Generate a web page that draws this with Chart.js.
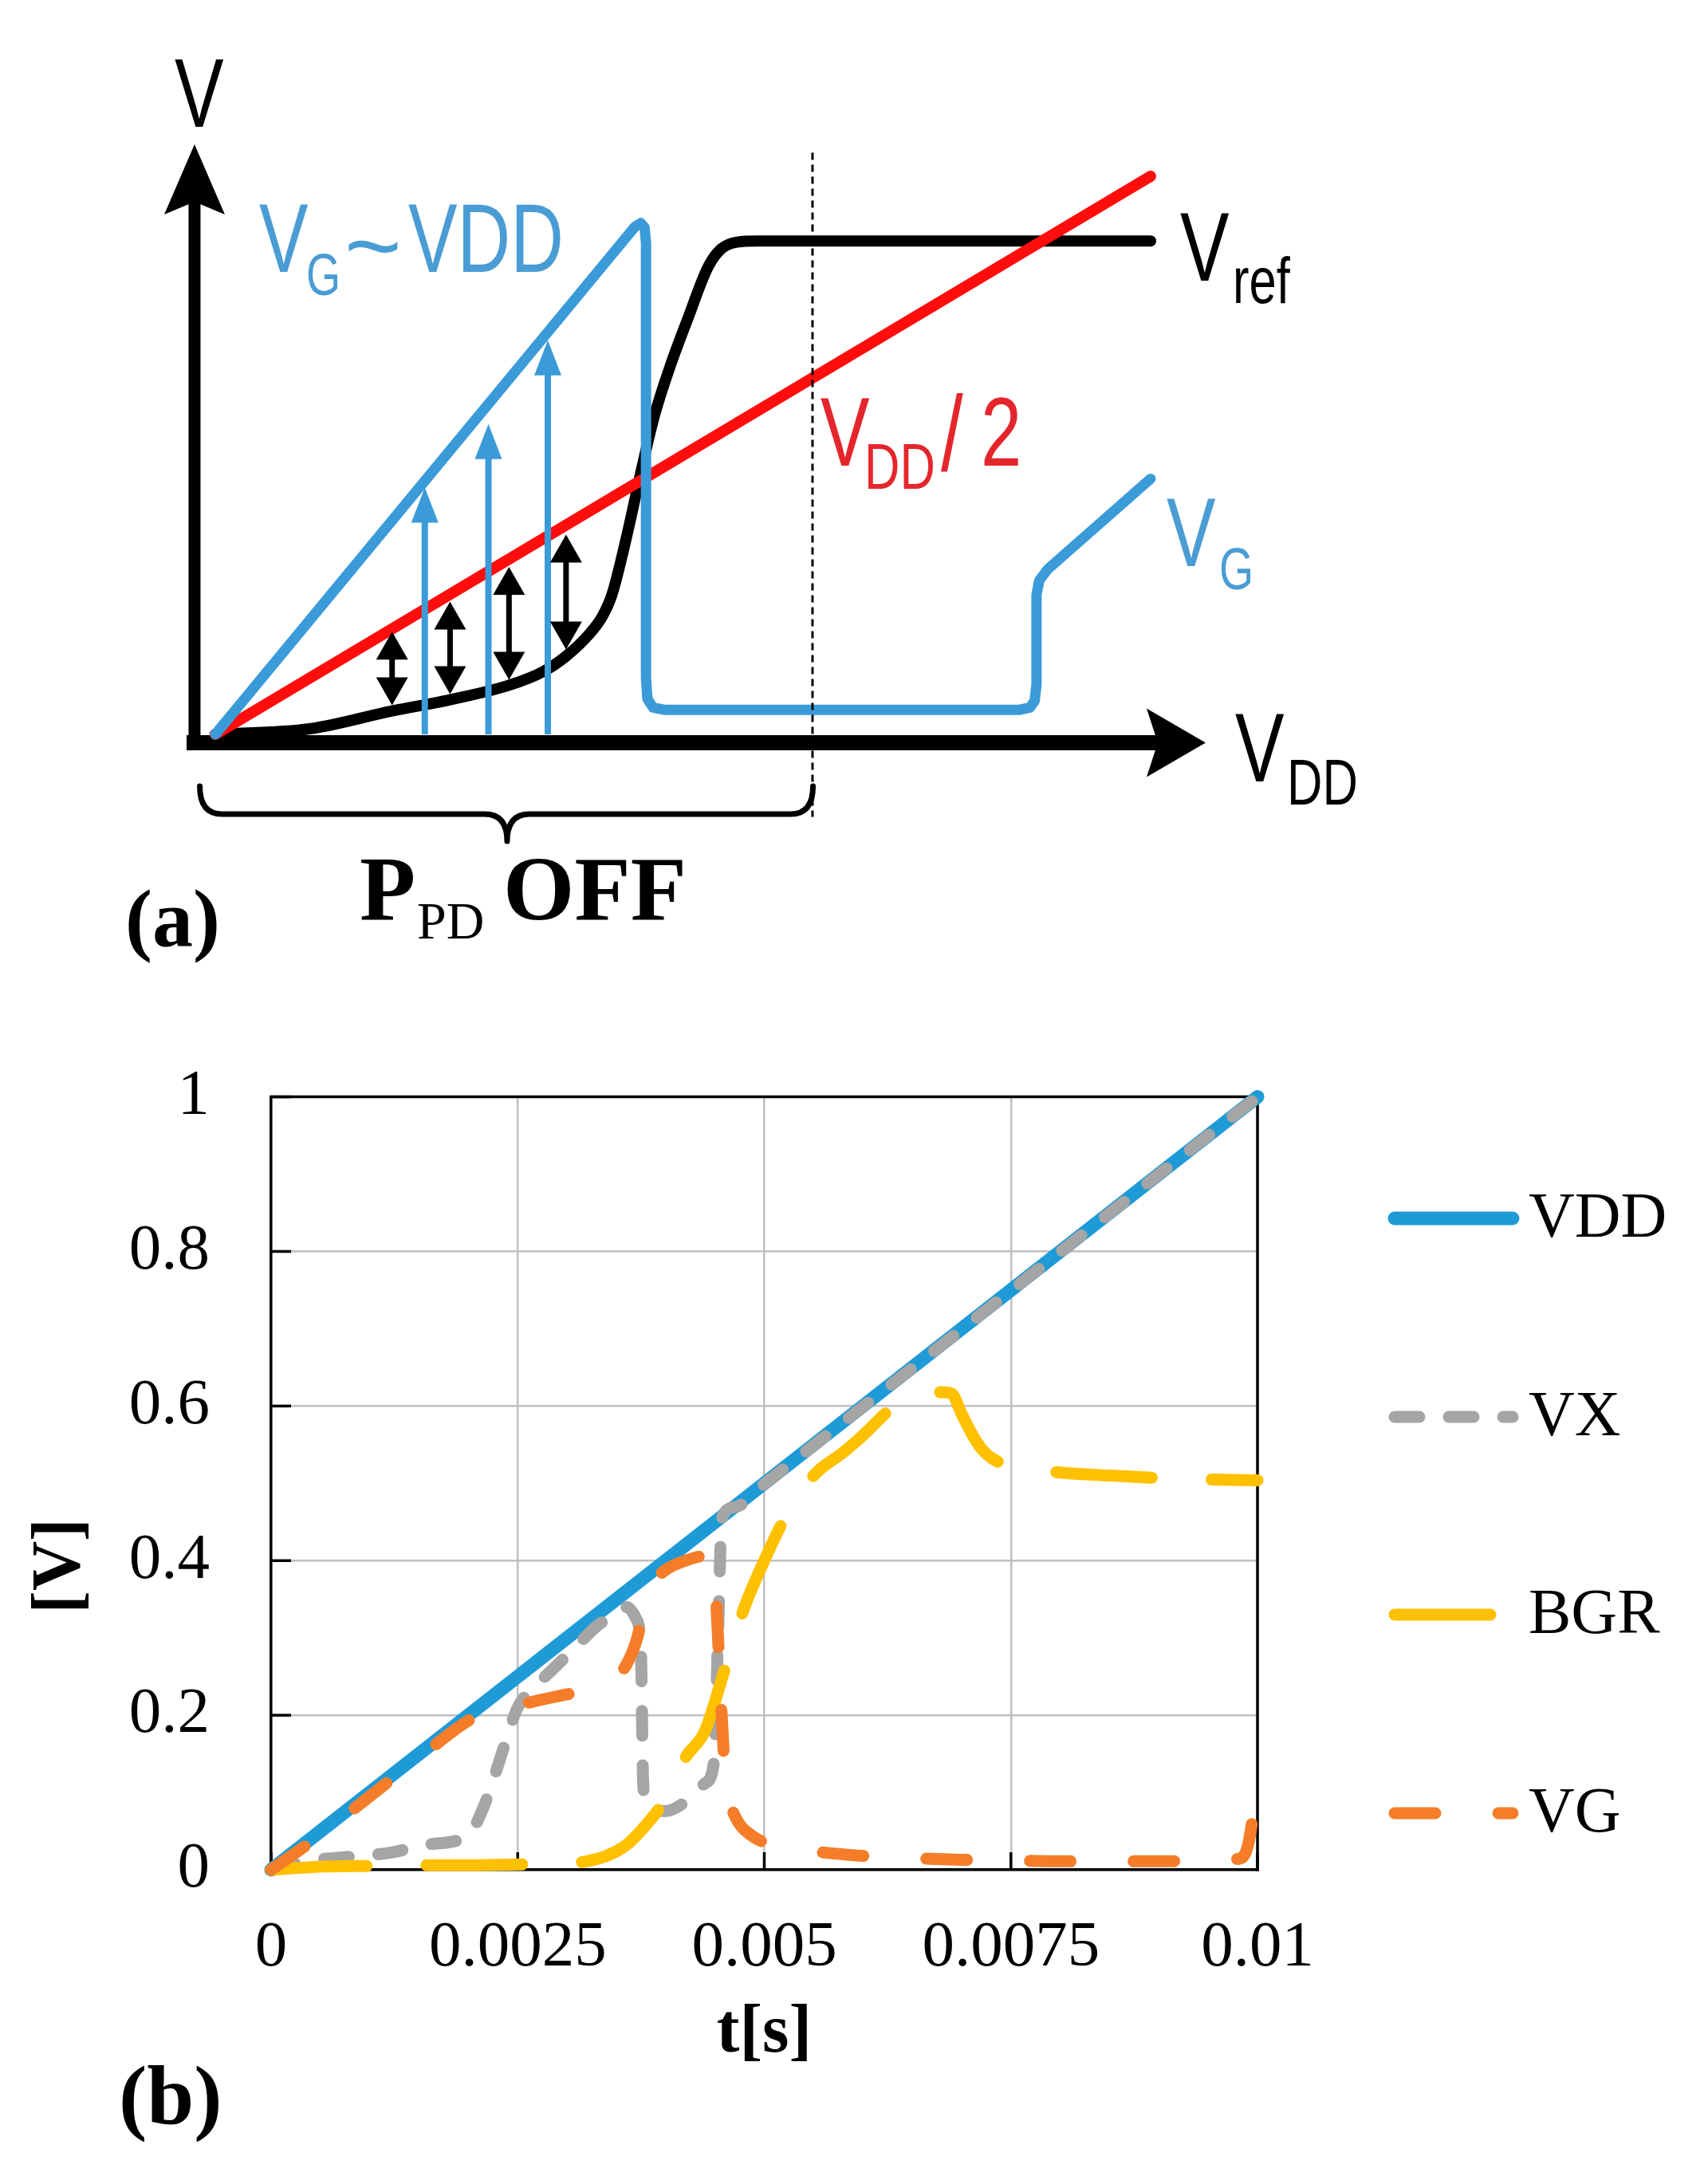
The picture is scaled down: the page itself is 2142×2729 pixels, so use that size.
<!DOCTYPE html>
<html>
<head>
<meta charset="utf-8">
<script src="https://cdn.jsdelivr.net/npm/chart.js@4.4.1/dist/chart.umd.min.js"></script>
<style>
  html, body { margin: 0; padding: 0; background: #fff; overflow: hidden; width: 2142px; height: 2729px; }
  canvas { position: absolute; left: 0; display: block; }
  #ca { top: 0; }
  #cb { top: 1250px; }
</style>
</head>
<body>
<canvas id="ca" width="2142" height="1250" style="width:2142px;height:1250px"></canvas>
<canvas id="cb" width="2142" height="1479" style="width:2142px;height:1479px"></canvas>
<script>
// ================= Panel (b): transient simulation data =================
const seriesNames = ['VDD', 'VX', 'BGR', 'VG'];

const vddT = [0, 0.01];
const vddV = [0, 1];

const vxT = [0, 0.0004, 0.0008, 0.0012, 0.0016, 0.002, 0.00215, 0.0023, 0.0024, 0.0025, 0.0027, 0.0029, 0.0031, 0.0033, 0.0035, 0.0036, 0.0037, 0.00375, 0.00377, 0.0038, 0.0039, 0.004, 0.0042, 0.0044, 0.00449, 0.00453, 0.00457, 0.0047, 0.005, 0.0075, 0.01];
const vxV = [0, 0.012, 0.017, 0.022, 0.033, 0.045, 0.08, 0.135, 0.175, 0.21, 0.24, 0.265, 0.29, 0.315, 0.332, 0.34, 0.325, 0.28, 0.12, 0.085, 0.077, 0.076, 0.088, 0.112, 0.14, 0.3, 0.455, 0.469, 0.499, 0.749, 1.0];

const bgrT = [0, 0.0005, 0.001, 0.0015, 0.002, 0.0025, 0.003, 0.0032, 0.0034, 0.0036, 0.0038, 0.004, 0.0042, 0.0044, 0.0046, 0.0048, 0.005, 0.0052, 0.0055, 0.0058, 0.006, 0.0063, 0.0065, 0.0068, 0.0069, 0.007, 0.0071, 0.0072, 0.0073, 0.0075, 0.008, 0.0085, 0.009, 0.0095, 0.01];
const bgrV = [0, 0.004, 0.005, 0.006, 0.006, 0.007, 0.008, 0.011, 0.018, 0.032, 0.058, 0.092, 0.145, 0.18, 0.26, 0.34, 0.4, 0.453, 0.51, 0.54, 0.562, 0.598, 0.61, 0.618, 0.616, 0.59, 0.565, 0.545, 0.533, 0.522, 0.514, 0.51, 0.507, 0.505, 0.504];

const vgT = [0, 0.0005, 0.001, 0.0015, 0.002, 0.0022, 0.0024, 0.0025, 0.0027, 0.003, 0.0033, 0.0035, 0.0036, 0.0037, 0.0038, 0.0039, 0.004, 0.0042, 0.0044, 0.00449, 0.00452, 0.00456, 0.0046, 0.00465, 0.0047, 0.0049, 0.0052, 0.0055, 0.006, 0.0065, 0.007, 0.0075, 0.008, 0.0085, 0.009, 0.0095, 0.0098, 0.0099, 0.01];
const vgV = [0, 0.045, 0.095, 0.145, 0.193, 0.205, 0.211, 0.213, 0.219, 0.227, 0.235, 0.25, 0.265, 0.295, 0.345, 0.375, 0.388, 0.4, 0.406, 0.4, 0.33, 0.22, 0.13, 0.09, 0.07, 0.042, 0.03, 0.024, 0.018, 0.015, 0.013, 0.012, 0.011, 0.011, 0.011, 0.012, 0.014, 0.03, 0.11];

const xTickValues = [0, 0.0025, 0.005, 0.0075, 0.01];
const xTickLabels = ['0', '0.0025', '0.005', '0.0075', '0.01'];
const yTickValues = [0, 0.2, 0.4, 0.6, 0.8, 1];
const yTickLabels = ['0', '0.2', '0.4', '0.6', '0.8', '1'];
const xAxisTitle = 't[s]';
const yAxisTitle = '[V]';

// ================= Panel (a): schematic (x = VDD, y = V) =================
const aHalfX = [0, 1];            // VDD/2 line
const aHalfY = [0, 0.5];
const aVgX = [0, 0.44, 0.449, 0.455, 0.459, 0.4605, 0.4605, 0.462, 0.468, 0.48, 0.86, 0.871, 0.876, 0.878, 0.878, 0.881, 0.89, 1.0];
const aVgY = [0, 0.446, 0.455, 0.458, 0.454, 0.44, 0.05, 0.032, 0.024, 0.022, 0.022, 0.024, 0.03, 0.045, 0.125, 0.138, 0.148, 0.229];
const aRefX = [0, 0.101, 0.189, 0.251, 0.314, 0.35, 0.375, 0.4, 0.414, 0.424, 0.44, 0.454, 0.469, 0.486, 0.505, 0.527, 0.541, 0.558, 0.58, 1.0];
const aRefY = [0, 0.005, 0.021, 0.031, 0.044, 0.056, 0.07, 0.09, 0.106, 0.125, 0.178, 0.231, 0.284, 0.329, 0.372, 0.419, 0.435, 0.441, 0.442, 0.442];
const aOffX = [0.6385, 0.6385];   // end of P_PD OFF region
const aOffY = [0.521, -0.074];
const aUpArrowX = [0.224, 0.292, 0.3555];
const aUpArrowTip = [0.221, 0.278, 0.353];
const aGapArrowX = [0.189, 0.251, 0.314, 0.375];
const aGapTop = [0.092, 0.119, 0.150, 0.179];
const aGapBottom = [0.026, 0.036, 0.049, 0.076];

const pts = (xs, ys) => xs.map((x, i) => ({ x: x, y: ys[i] }));

const SERIF = '"Liberation Serif", "Times New Roman", serif';
const SANS = '"Liberation Sans", Arial, sans-serif';

// ---------- helpers ----------
function arrowHead(ctx, tipX, tipY, dx, dy, len, halfW, notch, color) {
  const bx = tipX - dx * len, by = tipY - dy * len;
  const nx = -dy, ny = dx;
  ctx.beginPath();
  ctx.moveTo(tipX, tipY);
  ctx.lineTo(bx + nx * halfW, by + ny * halfW);
  ctx.lineTo(tipX - dx * (len - notch), tipY - dy * (len - notch));
  ctx.lineTo(bx - nx * halfW, by - ny * halfW);
  ctx.closePath();
  ctx.fillStyle = color;
  ctx.fill();
}
function sText(ctx, str, x, y, size, color, hs) {
  ctx.save();
  ctx.translate(x, y);
  ctx.scale(hs, 1);
  ctx.font = size + 'px ' + SANS;
  ctx.fillStyle = color;
  ctx.textAlign = 'left';
  ctx.textBaseline = 'alphabetic';
  ctx.fillText(str, 0, 0);
  ctx.restore();
}

// ---------- panel (a) chart ----------
const A = { ox: 270, oy: 921, sx: 1173, sy: 1400, w: 2142, h: 1250 };
const BLUE_A = '#3B9BD8';
const BLUE_TXT = '#4A9CD4';
const RED_A = '#FF0D0D';
const RED_TXT = '#E4262C';

const schematicPlugin = {
  id: 'schematic',
  beforeDatasetsDraw(chart) {
    const ctx = chart.ctx, X = chart.scales.x, Y = chart.scales.y;
    const px = v => X.getPixelForValue(v), py = v => Y.getPixelForValue(v);
    ctx.save();
    ctx.strokeStyle = '#000';
    ctx.lineCap = 'butt';
    // vertical axis
    const yx = px(-0.0222);
    ctx.lineWidth = 15;
    ctx.beginPath();
    ctx.moveTo(yx, py(-0.0143));
    ctx.lineTo(yx, py(0.5286) + 70);
    ctx.stroke();
    arrowHead(ctx, yx, py(0.5286), 0, -1, 88, 38, 16, '#000');
    // horizontal axis
    const xy = py(-0.0075);
    ctx.lineWidth = 19;
    ctx.beginPath();
    ctx.moveTo(px(-0.0307), xy);
    ctx.lineTo(px(1.0588) - 60, xy);
    ctx.stroke();
    arrowHead(ctx, px(1.0588), xy, 1, 0, 74, 43, 14, '#000');
    ctx.restore();
  },
  afterDatasetsDraw(chart) {
    const ctx = chart.ctx, X = chart.scales.x, Y = chart.scales.y;
    const px = v => X.getPixelForValue(v), py = v => Y.getPixelForValue(v);
    ctx.save();
    // blue up arrows
    aUpArrowX.forEach((v, i) => {
      const x = px(v), tip = py(aUpArrowTip[i]);
      ctx.strokeStyle = BLUE_A; ctx.lineWidth = 8; ctx.lineCap = 'butt';
      ctx.beginPath(); ctx.moveTo(x, py(0)); ctx.lineTo(x, tip + 35); ctx.stroke();
      arrowHead(ctx, x, tip, 0, -1, 44, 17, 0, BLUE_A);
    });
    // black double arrows
    aGapArrowX.forEach((v, i) => {
      const x = px(v), t = py(aGapTop[i]), b = py(aGapBottom[i]);
      ctx.strokeStyle = '#000'; ctx.lineWidth = 7; ctx.lineCap = 'butt';
      ctx.beginPath(); ctx.moveTo(x, t + 28); ctx.lineTo(x, b - 28); ctx.stroke();
      arrowHead(ctx, x, t, 0, -1, 35, 20, 0, '#000');
      arrowHead(ctx, x, b, 0, 1, 35, 20, 0, '#000');
    });
    // brace under the OFF region
    const L = px(-0.0166), R = px(0.639), C = px(0.312);
    const yTop = py(-0.0464), yMid = py(-0.0714), yTip = py(-0.0957);
    const r = 28;
    ctx.strokeStyle = '#000'; ctx.lineWidth = 7; ctx.lineCap = 'round'; ctx.lineJoin = 'round';
    ctx.beginPath();
    ctx.moveTo(L, yTop);
    ctx.quadraticCurveTo(L, yMid, L + r, yMid);
    ctx.lineTo(C - r, yMid);
    ctx.quadraticCurveTo(C, yMid, C, yTip);
    ctx.moveTo(C, yTip);
    ctx.quadraticCurveTo(C, yMid, C + r, yMid);
    ctx.lineTo(R - r, yMid);
    ctx.quadraticCurveTo(R, yMid, R, yTop);
    ctx.stroke();
    ctx.restore();
  },
  afterDraw(chart) {
    const ctx = chart.ctx;
    const M = 123, S = 82, H = 0.75;
    // axis labels
    sText(ctx, 'V', 219, 159, M, '#000', H);
    sText(ctx, 'V', 1549, 980, M, '#000', H);
    sText(ctx, 'DD', 1614, 1009, S, '#000', H);
    // V_G ~ VDD
    sText(ctx, 'V', 325, 341, M, BLUE_TXT, H);
    sText(ctx, 'G', 384, 370, S - 8, BLUE_TXT, H);
    sText(ctx, '~', 432, 350, M, BLUE_TXT, 1.0);
    sText(ctx, 'VDD', 512, 341, M, BLUE_TXT, H);
    // V_ref
    sText(ctx, 'V', 1480, 352, M, '#000', H);
    sText(ctx, 'ref', 1546, 380, S, '#000', H);
    // V_DD/2
    sText(ctx, 'V', 1029, 584, M, RED_TXT, H);
    sText(ctx, 'DD', 1084, 613, S, RED_TXT, H);
    sText(ctx, '/', 1180, 590, M + 10, RED_TXT, H);
    sText(ctx, '2', 1230, 584, M, RED_TXT, H);
    // V_G
    sText(ctx, 'V', 1463, 710, M, BLUE_TXT, H);
    sText(ctx, 'G', 1529, 739, S - 8, BLUE_TXT, H);
    // P_PD OFF
    ctx.save();
    ctx.fillStyle = '#000';
    ctx.textAlign = 'left';
    ctx.textBaseline = 'alphabetic';
    ctx.font = 'bold 115px ' + SERIF;
    ctx.fillText('P', 451, 1153);
    ctx.fillText('OFF', 631, 1153);
    ctx.font = '66px ' + SERIF;
    ctx.fillText('PD', 523, 1177);
    ctx.font = 'bold 102px ' + SERIF;
    ctx.fillText('(a)', 157, 1186);
    ctx.restore();
  }
};

new Chart(document.getElementById('ca'), {
  type: 'line',
  data: {
    datasets: [
      { label: 'Vref', data: pts(aRefX, aRefY), borderColor: '#000', borderWidth: 14, cubicInterpolationMode: 'monotone', order: 3, clip: false },
      { label: 'VDD/2', data: pts(aHalfX, aHalfY), borderColor: RED_A, borderWidth: 14, order: 2, clip: false },
      { label: 'VG', data: pts(aVgX, aVgY), borderColor: BLUE_A, borderWidth: 13, tension: 0, order: 1, clip: false },
      { label: 'OFF boundary', data: pts(aOffX, aOffY), borderColor: '#000', borderWidth: 3, borderDash: [9, 6], borderCapStyle: 'butt', order: 0, clip: false }
    ]
  },
  options: {
    responsive: false,
    animation: false,
    devicePixelRatio: 1,
    layout: { padding: 0 },
    plugins: { legend: { display: false }, tooltip: { enabled: false } },
    elements: { point: { radius: 0 }, line: { borderCapStyle: 'round', borderJoinStyle: 'round', fill: false } },
    scales: {
      x: { type: 'linear', display: false, min: -A.ox / A.sx, max: (A.w - A.ox) / A.sx },
      y: { type: 'linear', display: false, min: -(A.h - A.oy) / A.sy, max: A.oy / A.sy }
    }
  },
  plugins: [schematicPlugin]
});

// ---------- panel (b) chart ----------
const B = { left: 340, right: 1577, top: 118, bottom: 1095, w: 2142, h: 1479 };
const legendRowY = [278, 527, 775, 1024];

const framePlugin = {
  id: 'frame',
  beforeDatasetsDraw(chart) {
    const ctx = chart.ctx, a = chart.chartArea, X = chart.scales.x, Y = chart.scales.y;
    ctx.save();
    ctx.strokeStyle = '#000';
    ctx.lineWidth = 3.5;
    ctx.lineCap = 'square';
    ctx.beginPath();
    ctx.moveTo(a.left, a.top); ctx.lineTo(a.right, a.top); ctx.lineTo(a.right, a.bottom);
    ctx.stroke();
    ctx.lineCap = 'butt';
    yTickValues.forEach(v => {
      const y = Y.getPixelForValue(v);
      ctx.beginPath(); ctx.moveTo(a.left, y); ctx.lineTo(a.left + 25, y); ctx.stroke();
    });
    xTickValues.forEach(v => {
      const x = X.getPixelForValue(v);
      ctx.beginPath(); ctx.moveTo(x, a.bottom); ctx.lineTo(x, a.bottom - 22); ctx.stroke();
    });
    ctx.restore();
  },
  afterDraw(chart) {
    const ctx = chart.ctx, a = chart.chartArea;
    ctx.save();
    // legend, drawn from the datasets' own styles
    chart.data.datasets.forEach((ds, i) => {
      const y = legendRowY[i];
      ctx.strokeStyle = ds.borderColor;
      ctx.lineWidth = ds.borderWidth;
      ctx.lineCap = 'round';
      ctx.setLineDash(ds.borderDash || []);
      ctx.beginPath(); ctx.moveTo(1749, y); ctx.lineTo(1897, y); ctx.stroke();
      ctx.setLineDash([]);
      ctx.fillStyle = '#000';
      ctx.font = '80px ' + SERIF;
      ctx.textAlign = 'left';
      ctx.textBaseline = 'middle';
      ctx.fillText(ds.label, 1917, y + 2);
    });
    // axis titles
    ctx.fillStyle = '#000';
    ctx.font = 'bold 86px ' + SERIF;
    ctx.textAlign = 'center';
    ctx.textBaseline = 'alphabetic';
    ctx.fillText(xAxisTitle, (a.left + a.right) / 2, 1323);
    ctx.save();
    ctx.translate(99, 714);
    ctx.rotate(-Math.PI / 2);
    ctx.fillText(yAxisTitle, 0, 0);
    ctx.restore();
    // panel tag
    ctx.textAlign = 'left';
    ctx.font = 'bold 106px ' + SERIF;
    ctx.fillText('(b)', 149, 1414);
    ctx.restore();
  }
};

new Chart(document.getElementById('cb'), {
  type: 'line',
  data: {
    datasets: [
      { label: seriesNames[0], data: pts(vddT, vddV), borderColor: '#1E9BD7', borderWidth: 17, order: 4, clip: 10 },
      { label: seriesNames[1], data: pts(vxT, vxV), borderColor: '#A5A5A5', borderWidth: 15, borderDash: [31, 37], order: 3, clip: 10 },
      { label: seriesNames[2], data: pts(bgrT, bgrV), borderColor: '#FFC000', borderWidth: 15, borderDash: [120, 75], order: 2, clip: 10 },
      { label: seriesNames[3], data: pts(vgT, vgV), borderColor: '#F57D2A', borderWidth: 15, borderDash: [51, 79], order: 1, clip: 10 }
    ]
  },
  options: {
    responsive: false,
    animation: false,
    devicePixelRatio: 1,
    layout: { padding: { left: 0, top: B.top, right: B.w - B.right, bottom: 0 } },
    plugins: { legend: { display: false }, tooltip: { enabled: false } },
    elements: {
      point: { radius: 0 },
      line: { borderCapStyle: 'round', borderJoinStyle: 'round', cubicInterpolationMode: 'monotone', fill: false }
    },
    scales: {
      x: {
        type: 'linear', min: 0, max: 0.01,
        afterBuildTicks: s => { s.ticks = xTickValues.map(v => ({ value: v })); },
        afterFit: s => { s.height = B.h - B.bottom; },
        grid: { color: '#BFBFBF', lineWidth: 2.5, drawTicks: false },
        border: { color: '#000', width: 3.5 },
        ticks: { padding: 50, color: '#000', maxRotation: 0, minRotation: 0, autoSkip: false,
                 font: { family: SERIF, size: 81 }, callback: (v, i) => xTickLabels[i] }
      },
      y: {
        type: 'linear', min: 0, max: 1,
        afterBuildTicks: s => { s.ticks = yTickValues.map(v => ({ value: v })); },
        afterFit: s => { s.width = B.left; },
        grid: { color: '#BFBFBF', lineWidth: 2.5, drawTicks: false },
        border: { color: '#000', width: 3.5 },
        ticks: { padding: 77, color: '#000', autoSkip: false,
                 font: { family: SERIF, size: 81 }, callback: (v, i) => yTickLabels[i] }
      }
    }
  },
  plugins: [framePlugin]
});
</script>
</body>
</html>
